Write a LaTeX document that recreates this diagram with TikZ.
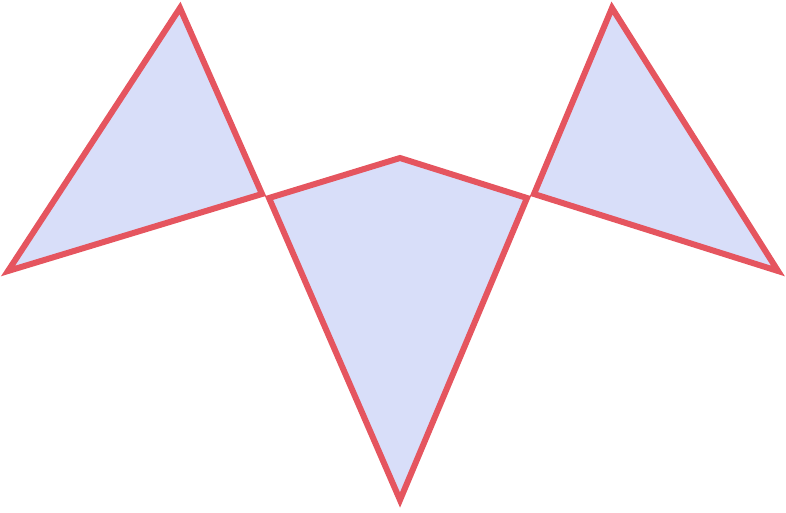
\documentclass[tikz,border=0pt]{standalone}
\usepackage{xcolor}
\usepackage{tikz}
\definecolor{edgered}{RGB}{229,85,95}
\definecolor{paleblue}{RGB}{216,222,249}

\begin{document}
\begin{tikzpicture}[x=1pt, y=-1pt,
    piece/.style={draw=edgered, fill=paleblue, line width=6pt, line join=miter},
]
\useasboundingbox (0,0) rectangle (786,512);

% left triangle
\draw[piece] (180,8) -- (8,271) -- (262,194) -- cycle;

% middle kite
\draw[piece] (269,198) -- (400,158) -- (527,198) -- (400,500) -- cycle;

% right triangle
\draw[piece] (612,8) -- (534,194) -- (778,271) -- cycle;

\end{tikzpicture}
\end{document}
